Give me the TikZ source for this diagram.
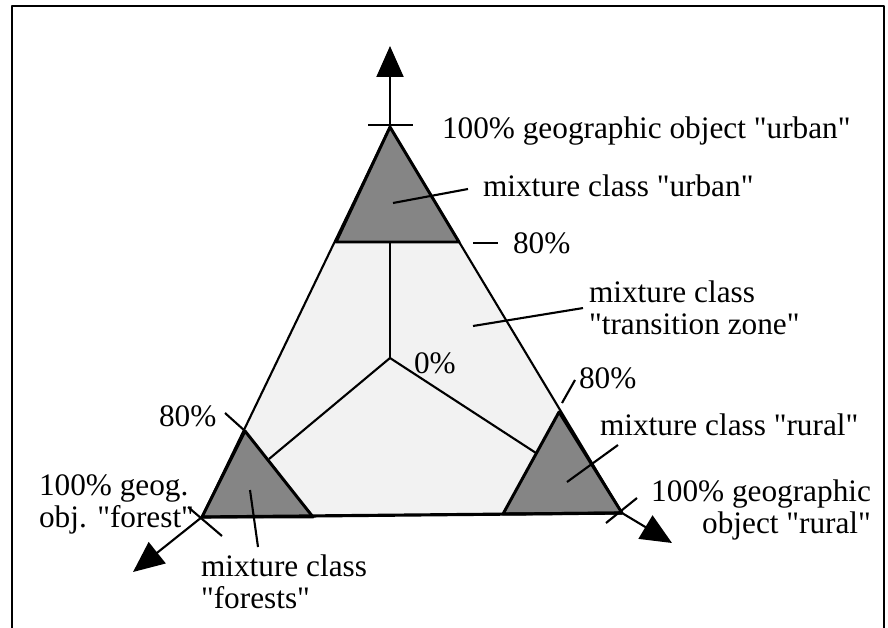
\documentclass[tikz,border=0pt]{standalone}
\usepackage{fontspec}
\setmainfont{Liberation Serif}[Ligatures=TeXOff]
\usetikzlibrary{arrows.meta, positioning, calc}

\begin{document}
\begin{tikzpicture}[x=0.02cm, y=-0.02cm, line width=1.2pt, line join=round,
    lbl/.style={inner sep=0pt, font=\fontsize{17.8}{18.2}\selectfont},
    corner/.style={fill=black!48, draw=black, line width=1.7pt},
    axis/.style={-{Triangle[length=0.62cm, width=0.54cm]}, line width=1.2pt}]
    \useasboundingbox (0,0) rectangle (888,628);
    % frame, open at the bottom
    \draw[line width=1.2pt] (12,628) -- (12,6) -- (884,6) -- (884,628);
    % corners of the big triangle and the 0% point
    \coordinate (U) at (390,127);
    \coordinate (F) at (202,517);
    \coordinate (R) at (622,513);
    \coordinate (O) at (390,358);
    % 80% points on the sides
    \coordinate (u1) at (336,242);
    \coordinate (u2) at (459,242);
    \coordinate (f1) at (245,431);
    \coordinate (f2) at (313,517);
    \coordinate (r1) at (559,412);
    \coordinate (r2) at (503,514);
    % ends of the lines from the 0% point
    \coordinate (yu) at (390,242);
    \coordinate (yf) at (269,459);
    \coordinate (yr) at (536,453);
    % transition zone and the three mixture classes
    \fill[black!5] (U) -- (R) -- (F) -- cycle;
    \draw[corner] (U) -- (u2) -- (u1) -- cycle;
    \draw[corner] (F) -- (f1) -- (f2) -- cycle;
    \draw[corner] (R) -- (r1) -- (r2) -- cycle;
    \draw (U) -- (R);
    \draw (U) -- (F);
    \draw[line width=1.8pt] (F) -- (R);
    \draw (O) -- (yu);
    \draw (O) -- (yf);
    \draw (O) -- (yr);
    % axes
    \coordinate (au) at (390,46);
    \coordinate (af) at (133,572);
    \coordinate (ar) at (672,543);
    \draw[axis] (U) -- (au);
    \draw[axis] (F) -- (af);
    \draw[axis] (R) -- (ar);
    % ticks at 100% and 80%
    \draw (368,125) -- (413,125);
    \draw (188,507) -- (222,536);
    \draw (637,498) -- (606,523);
    \draw (473,243) -- (498,243);
    \draw (575,380) -- (562,403);
    \draw (225,413) -- (245,431);
    % labels
    \node[lbl, anchor=base west] (l100u) at (441,139) {100\% geographic object "urban"};
    \node[lbl, anchor=base west] (lurban) at (482,196) {mixture class "urban"};
    \node[lbl, anchor=base west] (l80u) at (512,253) {80\%};
    \node[lbl, anchor=north west, align=left] (ltrans) at (588,280) {mixture class\\"transition zone"};
    \node[lbl, anchor=base west] (l0) at (413,373) {0\%};
    \node[lbl, anchor=base west] (l80r) at (578,388) {80\%};
    \node[lbl, anchor=base west] (lrural) at (599,435) {mixture class "rural"};
    \node[lbl, anchor=north east, align=right] (l100r) at (872,479) {100\% geographic\\object "rural"};
    \node[lbl, anchor=base west] (l80f) at (158,426) {80\%};
    \node[lbl, anchor=north west, align=left] (l100f) at (38,474) {100\% geog.\\obj. "forest"};
    \node[lbl, anchor=north west, align=left] (lforest) at (200,554) {mixture class\\"forests"};
    % leaders from the classes to their labels
    \coordinate (iu) at (393,203);
    \coordinate (it) at (473,326);
    \coordinate (ir) at (567,482);
    \coordinate (if) at (250,490);
    \draw (iu) -- ($(lurban.base west)+(-14,-7)$);
    \draw (it) -- ($(ltrans.west)+(-5,0)$);
    \draw (ir) -- ($(lrural.base west)+(19,10)$);
    \draw (if) -- ($(lforest.north west)+(58,-7)$);
\end{tikzpicture}
\end{document}
